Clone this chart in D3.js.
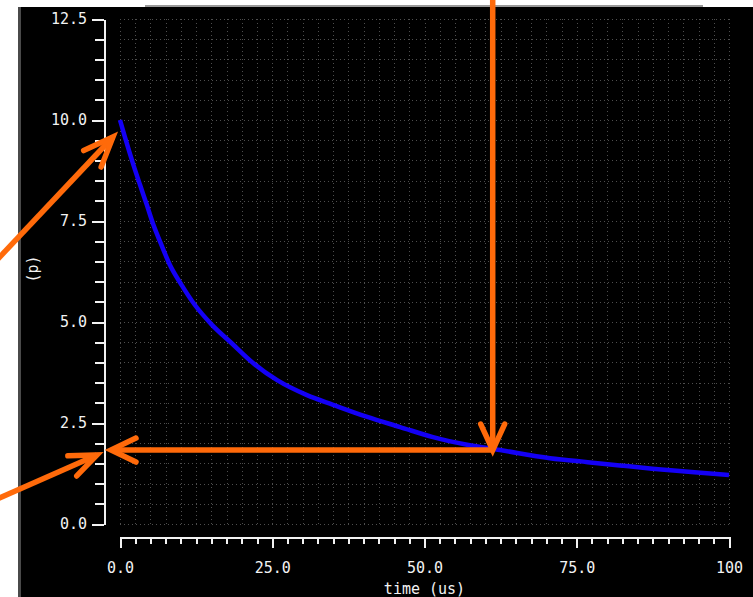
<!DOCTYPE html>
<html>
<head>
<meta charset="utf-8">
<script src="https://cdn.jsdelivr.net/npm/d3@7"></script>
<style>
  html, body { margin: 0; padding: 0; background: #ffffff; }
  svg { display: block; }
</style>
</head>
<body>
<svg id="chart" width="753" height="597"></svg>
<script>
// ---- data ----
const time  = [0, 0.8, 2.2, 3.3, 4.4, 5.5, 6.8, 8.2, 10.1, 12.3, 15.1, 18.3, 21.8, 25.8, 30.7, 35, 40.6, 46, 51.4, 57, 62.4, 70.6, 76.8, 82.7, 87.4, 93.8, 100];
const value = [10.0, 9.58, 8.89, 8.39, 7.90, 7.40, 6.91, 6.41, 5.92, 5.42, 4.93, 4.48, 3.99, 3.56, 3.19, 2.95, 2.65, 2.40, 2.15, 1.96, 1.83, 1.63, 1.53, 1.44, 1.37, 1.29, 1.21];
const xMajorTicks = [0, 25, 50, 75, 100];
const xTickLabels = ["0.0", "25.0", "50.0", "75.0", "100"];
const yMajorTicks = [0, 2.5, 5, 7.5, 10, 12.5];
const yTickLabels = ["0.0", "2.5", "5.0", "7.5", "10.0", "12.5"];
const xLabel = "time (us)";
const yLabel = "(p)";
// marked point on the curve (annotation)
const markTime = 61.2;
const markValue = 1.83;

const svg = d3.select("#chart");
const W = 753, H = 597;

// background frame
svg.append("rect").attr("x", 0).attr("y", 0).attr("width", W).attr("height", H).attr("fill", "#ffffff");
svg.append("rect").attr("x", 18).attr("y", 7).attr("width", W - 18).attr("height", H - 7).attr("fill", "#000000");
svg.append("rect").attr("x", 18).attr("y", 7).attr("width", 3).attr("height", H - 7).attr("fill", "#4a4a4a");
svg.append("rect").attr("x", 145).attr("y", 5).attr("width", 558).attr("height", 2).attr("fill", "#9a9a9a");

const x = d3.scaleLinear().domain([0, 100]).range([120, 729]);
const y = d3.scaleLinear().domain([0, 12.5]).range([524, 19]);

const xMinor = d3.range(0, 100.001, 2.5);
const yMinor = d3.range(0, 12.501, 0.5);

// grid (dotted)
const grid = svg.append("g").attr("stroke", "#4e4e4e").attr("stroke-width", 1)
  .attr("stroke-dasharray", "1,3").attr("shape-rendering", "crispEdges");
grid.selectAll("line.v").data(xMinor).join("line").attr("class", "v")
  .attr("x1", d => Math.round(x(d)) + 0.5).attr("x2", d => Math.round(x(d)) + 0.5)
  .attr("y1", y(12.5)).attr("y2", y(0));
grid.selectAll("line.h").data(yMinor).join("line").attr("class", "h")
  .attr("y1", d => Math.round(y(d)) + 0.5).attr("y2", d => Math.round(y(d)) + 0.5)
  .attr("x1", x(0)).attr("x2", x(100));

const axisColor = "#f2f2f2";
const font = "'DejaVu Sans Mono', monospace";

function styleAxis(g) {
  g.selectAll("path.domain").attr("stroke", axisColor).attr("stroke-width", 2);
  g.selectAll(".tick line").attr("stroke", axisColor).attr("stroke-width", 2);
  g.selectAll(".tick text").attr("fill", axisColor).style("font-family", font).style("font-size", "15px");
  g.attr("shape-rendering", "crispEdges");
}

// Y axis (minor + major)
const yAxisX = 104;
svg.append("g").attr("transform", `translate(${yAxisX},0)`)
  .call(d3.axisLeft(y).tickValues(yMinor).tickSize(9).tickSizeOuter(0).tickFormat(""))
  .call(styleAxis);
svg.append("g").attr("transform", `translate(${yAxisX},0)`)
  .call(d3.axisLeft(y).tickValues(yMajorTicks).tickSize(12).tickSizeOuter(0).tickPadding(5)
        .tickFormat((d, i) => yTickLabels[i]))
  .call(styleAxis)
  .call(g => g.select("path.domain").remove());

// X axis (minor + major)
const xAxisY = 537;
svg.append("g").attr("transform", `translate(0,${xAxisY})`)
  .call(d3.axisBottom(x).tickValues(xMinor).tickSize(7).tickSizeOuter(0).tickFormat(""))
  .call(styleAxis);
svg.append("g").attr("transform", `translate(0,${xAxisY})`)
  .call(d3.axisBottom(x).tickValues(xMajorTicks).tickSize(11).tickSizeOuter(0).tickPadding(14)
        .tickFormat((d, i) => xTickLabels[i]))
  .call(styleAxis)
  .call(g => g.select("path.domain").remove());

// axis titles
svg.append("text").attr("x", (x(0) + x(100)) / 2).attr("y", 594)
  .attr("text-anchor", "middle").attr("fill", axisColor)
  .style("font-family", font).style("font-size", "15px").text(xLabel);
svg.append("text").attr("transform", `translate(38,269) rotate(-90)`)
  .attr("text-anchor", "middle").attr("fill", axisColor)
  .style("font-family", font).style("font-size", "15px").text(yLabel);

// curve
const pts = time.map((t, i) => [t, value[i]]);
svg.append("path").datum(pts)
  .attr("fill", "none").attr("stroke", "#1400f5").attr("stroke-width", 4.5)
  .attr("stroke-linejoin", "round")
  .attr("d", d3.line().x(d => x(d[0])).y(d => y(d[1])).curve(d3.curveMonotoneX));

// annotations (orange arrows)
const orange = "#ff6a0a";
const ann = svg.append("g").attr("stroke", orange).attr("stroke-width", 5.5)
  .attr("stroke-linecap", "round").attr("fill", "none");

function arrow(x1, y1, x2, y2, len, half) {
  ann.append("line").attr("x1", x1).attr("y1", y1).attr("x2", x2).attr("y2", y2)
    .attr("stroke-linecap", "butt");
  const a = Math.atan2(y2 - y1, x2 - x1);
  const bx = x2 - len * Math.cos(a), by = y2 - len * Math.sin(a);
  const px = -Math.sin(a), py = Math.cos(a);
  ann.append("path").attr("d",
    `M${bx + half * px},${by + half * py}L${x2},${y2}L${bx - half * px},${by - half * py}`)
    .attr("stroke-linejoin", "miter");
}

const mx = x(markTime), my = y(markValue);
// vertical arrow from top edge down to the marked point
arrow(mx, -5, mx, my, 26, 12);
// horizontal arrow from the marked point to the y axis
arrow(mx, my, 111, my, 25, 12);
// diagonal arrow pointing at the 10.0 start value
arrow(-5, 262, 113, 137, 30, 12);
// diagonal arrow pointing at the marked value on the y axis
arrow(-5, 500, 97, 455, 27, 11);
</script>
</body>
</html>
